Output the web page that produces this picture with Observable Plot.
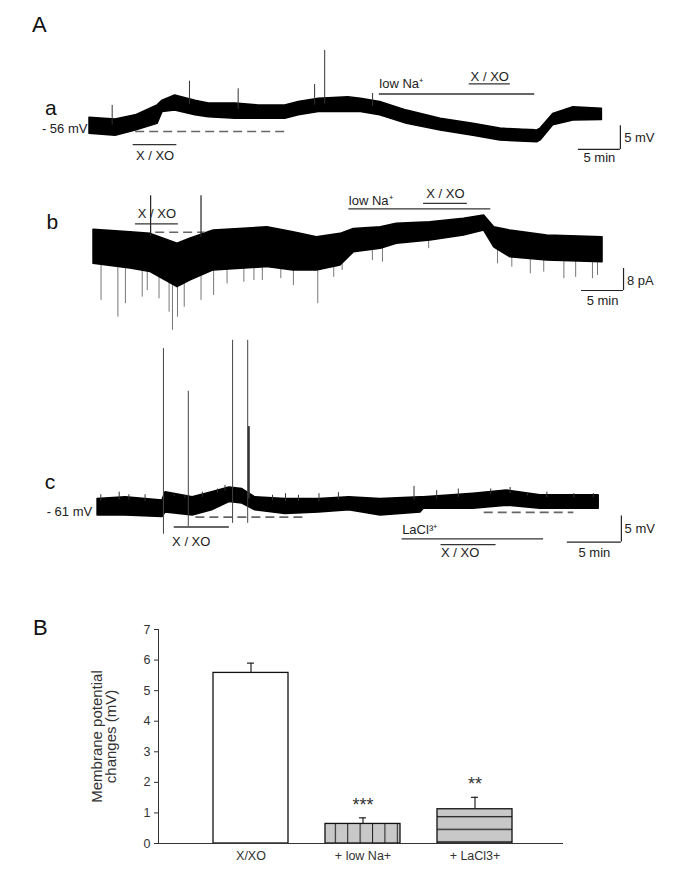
<!DOCTYPE html>
<html>
<head>
<meta charset="utf-8">
<script src="https://cdn.jsdelivr.net/npm/d3@7"></script>
<script src="https://cdn.jsdelivr.net/npm/@observablehq/plot@0.6"></script>
<style>
  body { margin: 0; background: #fff; font-family: "Liberation Sans", Arial, sans-serif; }
  #fig { position: relative; width: 686px; height: 882px; overflow: hidden; }
  .panel { position: absolute; left: 0; }
  .big { position: absolute; font-size: 22px; line-height: 22px; color: #111; }
</style>
</head>
<body>
<div id="fig"></div>
<script>
// ================= DATA =================
// Trace a: membrane potential (mV) vs time (min); envelope of the noisy trace
const aTime = [0, 3.1, 5.5, 8.1, 8.7, 10.2, 12.6, 14.2, 17.4, 20.1, 23.3, 24.9, 27.3, 30.8, 32.3, 34.6, 37.8, 41.8, 45.7, 48.9, 53.3, 53.7, 55.2, 57.6, 61.0];
const aTop  = [-53.3,-53.7,-52.8,-50.7,-49.7,-48.6,-49.7,-50.3,-50.3,-50.7,-50.7,-50.0,-49.3,-49.0,-49.3,-50.0,-51.8,-53.5,-54.6,-55.6,-56.0,-55.6,-52.5,-51.1,-51.4];
const aBot  = [-56.7,-57.1,-56.0,-54.6,-52.1,-51.8,-52.8,-53.2,-53.5,-53.5,-53.5,-52.8,-52.1,-52.1,-52.1,-52.8,-54.6,-56.0,-57.1,-58.1,-58.5,-58.1,-54.9,-53.9,-53.8];
const aSpikeT   = [2.7, 11.9, 17.7, 26.8, 28.0, 33.7];
const aSpikeTip = [-50.7, -45.6, -47.2, -46.3, -39.1, -48.2];
const aBaseline = [{t0: 5.5, t1: 23.3, v: -56.2}, {t0: 46.9, t1: 53.9, v: -55.8}];
const aDrugs = [{label: "X / XO", t0: 5.2, t1: 10.4}, {label: "low Na\u207A", t0: 34.5, t1: 53.0}, {label: "X / XO", t0: 45.2, t1: 50.1}];
const aHolding = "- 56 mV";

// Trace b: current (pA, relative) vs time (min)
const bTime = [0, 4.4, 6.8, 10.0, 11.5, 14.3, 20.7, 23.8, 26.6, 29.4, 31.0, 34.2, 36.1, 40.1, 44.1, 46.5, 47.7, 49.6, 54.0, 60.6];
const bTop  = [0.9, 0, -0.6, -4.2, -2.4, 0.6, 1.8, 0, -1.8, -0.6, 1.2, 1.8, 3.1, 3.6, 4.9, 6.1, 1.8, 0.6, -1.2, -1.8];
const bBot  = [-11.5, -13.2, -14.5, -20.0, -17.6, -13.9, -12.7, -13.9, -13.9, -12.1, -7.3, -6.0, -4.2, -3.0, -1.2, 0.6, -5.5, -9.1, -10.3, -10.9];
const bSpikeT   = [0.9, 2.9, 3.8, 5.8, 6.4, 7.8, 9.0, 9.4, 10.0, 10.8, 12.8, 14.3, 15.9, 17.9, 19.1, 20.1, 22.3, 23.8, 26.7, 28.6, 29.6, 33.2, 34.4, 39.9, 48.1, 49.8, 52.0, 53.6, 56.0, 57.4, 59.4, 60.0];
const bSpikeTip = [-24.8, -30.9, -26.0, -23.6, -21.2, -24.2, -29.1, -35.7, -30.9, -27.3, -24.8, -23.0, -18.8, -18.2, -17.6, -17.6, -16.9, -19.4, -26.0, -16.4, -13.9, -10.3, -10.9, -6.0, -11.5, -12.7, -15.1, -14.5, -16.9, -16.4, -16.9, -15.7];
const bTransT = [6.8, 12.8];
const bTransTop = [13.3, 13.3];
const bBaseline = [{t0: 7.4, t1: 13.3, v: 0}];
const bDrugs = [{label: "X / XO", t0: 5.0, t1: 10.1}, {label: "low Na\u207A", t0: 30.4, t1: 47.3}, {label: "X / XO", t0: 39.3, t1: 44.5}];

// Trace c: membrane potential (mV) vs time (min)
const cTime = [0.1, 2.7, 6.1, 6.4, 8.9, 10.7, 12.3, 13.5, 14.7, 17.5, 20.6, 23.4, 26.3, 30.0, 30.3, 34.9, 38.0, 41.1, 46.5];
const cTop  = [-58.0,-57.7,-58.3,-56.7,-57.7,-56.7,-55.8,-56.1,-57.7,-58.0,-58.0,-57.7,-58.0,-57.7,-57.7,-57.0,-56.4,-57.3,-57.3];
const cBot  = [-61.2,-61.2,-61.5,-60.6,-61.2,-60.2,-58.6,-58.9,-60.2,-60.9,-60.6,-60.2,-61.2,-60.6,-59.9,-59.9,-59.3,-59.9,-59.9];
const cNoiseT   = [0.4, 2.1, 3.0, 4.5, 7.2, 8.2, 9.8, 11.2, 11.9, 16.3, 17.5, 18.7, 20.6, 22.4, 29.4, 31.5, 33.5, 36.5, 38.3, 39.9, 41.7, 44.2, 46.0];
const cNoiseTip = [-57.2, -56.7, -57.2, -57.2, -57.2, -57.3, -56.7, -56.1, -55.4, -57.3, -57.0, -57.3, -57.0, -56.8, -55.6, -56.4, -56.1, -56.1, -55.8, -57.0, -56.7, -57.0, -57.0];
const cAPs = [{t: 6.2, from: -64.8, to: -29.1}, {t: 8.5, from: -63.3, to: -37.3}, {t: 12.6, from: -62.7, to: -27.5}, {t: 14.0, from: -62.7, to: -27.5}];
const cAPpartial = [{t: 14.1, from: -58.0, to: -44.1}];
const cBaseline = [{t0: 9.2, t1: 19.2, v: -61.5}, {t0: 35.9, t1: 44.2, v: -60.6}];
const cDrugs = [{label: "X / XO", t0: 7.2, t1: 12.3}, {label: "LaCl\u00B3\u207A", t0: 28.3, t1: 41.4}, {label: "X / XO", t0: 31.9, t1: 37.0}];
const cHolding = "- 61 mV";

// Panel B: bar chart
const categories = ["X/XO", "+ low Na+", "+ LaCl3+"];
const means = [5.58, 0.64, 1.12];
const errors = [0.32, 0.20, 0.39];
const stars = ["", "***", "**"];
const yTicks = [0, 1, 2, 3, 4, 5, 6, 7];

// ================= HELPERS =================
const W = 686;
const FONT = "Liberation Sans, Arial, sans-serif";
const INK = "#222";
const FS = 13;
const fig = document.getElementById("fig");

function rows(t, hi, lo) { return t.map((x, i) => ({t: x, hi: hi[i], lo: lo[i]})); }
function at(ts, vs, t) {
  const i = Math.max(1, Math.min(ts.length - 1, d3.bisectLeft(ts, t)));
  const a = ts[i - 1], b = ts[i];
  const k = Math.max(0, Math.min(1, (t - a) / (b - a)));
  return vs[i - 1] + k * (vs[i] - vs[i - 1]);
}
function scales(t0px, pxPerMin, ref, refPx, pxPerUnit, top) {
  return {
    x: {type: "linear", domain: [0, 10], range: [t0px, t0px + 10 * pxPerMin], axis: null},
    y: {type: "linear", domain: [ref, ref + 10], range: [refPx - top, refPx - top - 10 * pxPerUnit], axis: null}
  };
}
function place(svg, top, h) {
  const d = document.createElement("div");
  d.className = "panel";
  d.style.top = top + "px";
  d.style.height = h + "px";
  d.appendChild(svg);
  fig.appendChild(d);
}
function label(txt, x, y, opts = {}) {
  return Plot.text([txt], {x: () => x, y: () => y, text: d => d, fontSize: FS, fill: INK, ...opts});
}
function drugBar(d, y) {
  return Plot.ruleY([d], {x1: "t0", x2: "t1", y: () => y, stroke: "#333", strokeWidth: 1.3});
}
function dashed(data) {
  return Plot.ruleY(data, {x1: "t0", x2: "t1", y: "v", stroke: "#666", strokeWidth: 1.6, strokeDasharray: "9,5"});
}
function scaleBar(tRight, vBottom, dt, dv) {
  return [
    Plot.ruleX([0], {x: () => tRight, y1: () => vBottom, y2: () => vBottom + dv, stroke: "#222", strokeWidth: 1.2}),
    Plot.ruleY([0], {y: () => vBottom, x1: () => tRight - dt, x2: () => tRight, stroke: "#222", strokeWidth: 1.2})
  ];
}
const baseStyle = {fontFamily: FONT, fontSize: "12px", color: INK, background: "transparent", overflow: "visible"};

// ================= TRACE a =================
{
  const top = 0, H = 172;
  const s = scales(89, 8.4, -56, 130, 4.74, top);
  const spikes = aSpikeT.map((t, i) => ({t, tip: aSpikeTip[i], base: at(aTime, aTop, t) - 1.2}));
  const svg = Plot.plot({
    width: W, height: H, margin: 0, ...s, style: baseStyle,
    marks: [
      dashed(aBaseline),
      Plot.areaY(rows(aTime, aTop, aBot), {x: "t", y1: "lo", y2: "hi", fill: "#000", stroke: "#000", strokeWidth: 1.5, curve: "linear"}),
      Plot.ruleX(spikes, {x: "t", y1: "base", y2: "tip", stroke: "#333", strokeWidth: 1}),
      drugBar(aDrugs[0], -59.0),
      label(aDrugs[0].label, (aDrugs[0].t0 + aDrugs[0].t1) / 2, -61.3),
      drugBar(aDrugs[1], -48.3),
      label(aDrugs[1].label, aDrugs[1].t0, -46.2, {textAnchor: "start"}),
      drugBar(aDrugs[2], -46.15),
      label(aDrugs[2].label, (aDrugs[2].t0 + aDrugs[2].t1) / 2, -44.7),
      ...scaleBar(63.2, -60, 5, 5),
      label("5 mV", 63.65, -57.5, {textAnchor: "start"}),
      label("5 min", 60.7, -61.8),
      label(aHolding, -0.25, -55.6, {textAnchor: "end"}),
      label("a", -4.6, -51.3, {fontSize: 21, fill: "#111"})
    ]
  });
  place(svg, top, H);
}

// ================= TRACE b =================
{
  const top = 172, H = 165;
  const s = scales(93, 8.4, 0, 231.7, 2.75, top);
  const spikes = bSpikeT.map((t, i) => ({t, tip: bSpikeTip[i], base: at(bTime, bBot, t) + 1}));
  const trans = bTransT.map((t, i) => ({t, tip: bTransTop[i], base: at(bTime, bTop, t) - 1}));
  const svg = Plot.plot({
    width: W, height: H, margin: 0, ...s, style: baseStyle,
    marks: [
      Plot.ruleX(spikes, {x: "t", y1: "base", y2: "tip", stroke: "#777", strokeWidth: 1}),
      Plot.areaY(rows(bTime, bTop, bBot), {x: "t", y1: "lo", y2: "hi", fill: "#000", stroke: "#000", strokeWidth: 1.5, curve: "linear"}),
      dashed(bBaseline),
      Plot.ruleX(trans, {x: "t", y1: "base", y2: "tip", stroke: "#222", strokeWidth: 1.2}),
      drugBar(bDrugs[0], 3.05),
      label(bDrugs[0].label, (bDrugs[0].t0 + bDrugs[0].t1) / 2, 6.7),
      drugBar(bDrugs[1], 8.5),
      label(bDrugs[1].label, bDrugs[1].t0, 11.5, {textAnchor: "start"}),
      drugBar(bDrugs[2], 10.5),
      label(bDrugs[2].label, (bDrugs[2].t0 + bDrugs[2].t1) / 2, 14.0),
      ...scaleBar(63.1, -21.2, 5, 8),
      label("8 pA", 63.5, -17.6, {textAnchor: "start"}),
      label("5 min", 60.6, -24.8),
      label("b", -4.9, 3.5, {fontSize: 21, fill: "#111"})
    ]
  });
  place(svg, top, H);
}

// ================= TRACE c =================
{
  const top = 337, H = 230;
  const s = scales(96, 10.8, -61, 514, 5.2, top);
  const noise = cNoiseT.map((t, i) => ({t, tip: cNoiseTip[i], base: at(cTime, cTop, t) - 0.5}));
  const svg = Plot.plot({
    width: W, height: H, margin: 0, ...s, style: baseStyle,
    marks: [
      dashed(cBaseline),
      Plot.areaY(rows(cTime, cTop, cBot), {x: "t", y1: "lo", y2: "hi", fill: "#000", stroke: "#000", strokeWidth: 1.5, curve: "linear"}),
      Plot.ruleX(noise, {x: "t", y1: "base", y2: "tip", stroke: "#333", strokeWidth: 1}),
      Plot.ruleX(cAPs, {x: "t", y1: "from", y2: "to", stroke: "#444", strokeWidth: 1}),
      Plot.ruleX(cAPpartial, {x: "t", y1: "from", y2: "to", stroke: "#333", strokeWidth: 2}),
      drugBar(cDrugs[0], -63.4),
      label(cDrugs[0].label, cDrugs[0].t0 - 0.2, -66.3, {textAnchor: "start"}),
      drugBar(cDrugs[1], -65.7),
      label(cDrugs[1].label, cDrugs[1].t0, -64.0, {textAnchor: "start"}),
      drugBar(cDrugs[2], -66.8),
      label(cDrugs[2].label, cDrugs[2].t0, -68.3, {textAnchor: "start"}),
      ...scaleBar(48.6, -66.3, 5, 5),
      label("5 mV", 48.9, -63.8, {textAnchor: "start"}),
      label("5 min", 46.1, -68.3),
      label(cHolding, -0.4, -60.4, {textAnchor: "end"}),
      label("c", -4.3, -54.8, {fontSize: 21, fill: "#111"})
    ]
  });
  place(svg, top, H);
}

// ================= PANEL B =================
{
  const top = 567, H = 315;
  const bars = categories.map((c, i) => ({cat: c, mean: means[i], err: errors[i], star: stars[i]}));
  const barFills = ["#ffffff", "url(#vlines)", "url(#hlines)"];
  const svg = Plot.plot({
    width: W, height: H, marginTop: 62, marginBottom: 39, marginLeft: 158, marginRight: 123,
    style: {...baseStyle, fontSize: "12.5px", color: "#333"},
    color: {type: "identity"},
    x: {domain: categories, range: [193.5, 531], paddingInner: 1 / 3, paddingOuter: 1 / 6, tickSize: 0, tickPadding: 8, label: null},
    y: {domain: [0, 7], ticks: yTicks, tickFormat: d => String(d), tickSize: 4, tickPadding: 4, line: true, label: null},
    marks: [
      Plot.barY(bars, {x: "cat", y: "mean", fill: (d, i) => barFills[i], stroke: "#111", strokeWidth: 1.3}),
      Plot.ruleX(bars, {x: "cat", y1: "mean", y2: d => d.mean + d.err, stroke: "#222", strokeWidth: 1.2}),
      Plot.tickY(bars, {x: "cat", y: d => d.mean + d.err, insetLeft: 34, insetRight: 34, stroke: "#222", strokeWidth: 1.2}),
      Plot.text(bars, {x: "cat", y: d => d.mean + d.err, text: "star", dy: -13, fontSize: 18, fill: "#333"}),
      Plot.ruleY([0], {stroke: "#333", strokeWidth: 1.2}),
      Plot.text(["Membrane potential\nchanges (mV)"], {frameAnchor: "left", textAnchor: "middle", lineAnchor: "middle", dx: -54, dy: 0, rotate: -90, fontSize: 15, lineHeight: 0.95, fill: "#333"})
    ]
  });
  const ns = "http://www.w3.org/2000/svg";
  const defs = document.createElementNS(ns, "defs");
  defs.innerHTML =
    '<pattern id="vlines" patternUnits="userSpaceOnUse" width="12.4" height="10">' +
      '<rect width="12.4" height="10" fill="#c8c8c8"/>' +
      '<line x1="0.4" y1="0" x2="0.4" y2="10" stroke="#222" stroke-width="1.3"/></pattern>' +
    '<pattern id="hlines" patternUnits="userSpaceOnUse" width="10" height="12.6">' +
      '<rect width="10" height="12.6" fill="#c8c8c8"/>' +
      '<line x1="0" y1="10.3" x2="10" y2="10.3" stroke="#222" stroke-width="1.3"/></pattern>';
  svg.insertBefore(defs, svg.firstChild);
  place(svg, top, H);
}

// Panel letters
for (const [txt, x, y] of [["A", 32, 14], ["B", 33, 617]]) {
  const d = document.createElement("div");
  d.className = "big";
  d.style.left = x + "px";
  d.style.top = y + "px";
  d.textContent = txt;
  fig.appendChild(d);
}
</script>
</body>
</html>
